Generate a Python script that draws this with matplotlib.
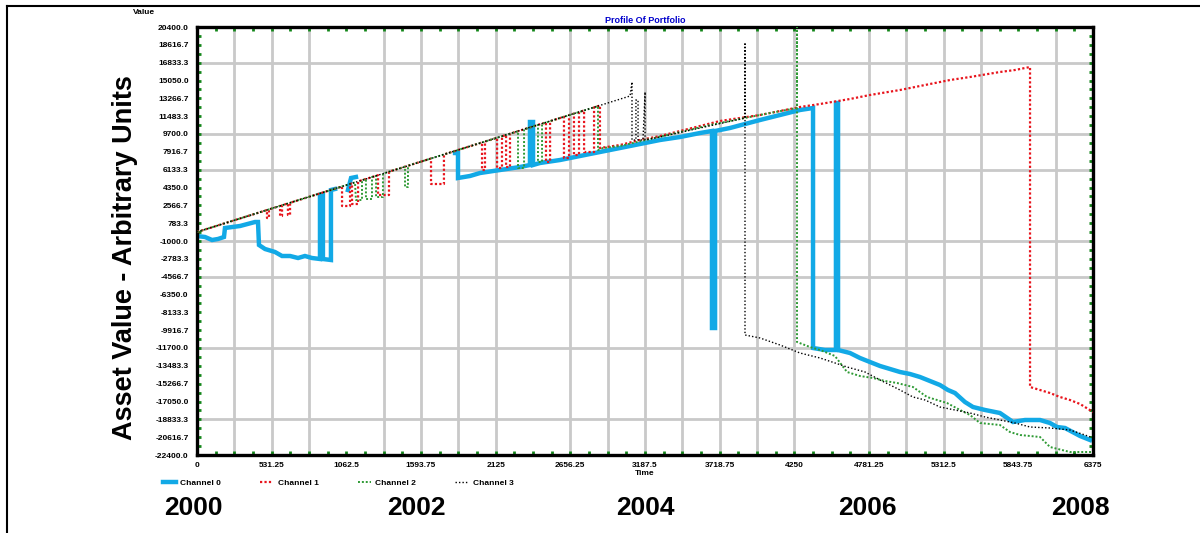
import numpy as np
import matplotlib

matplotlib.use("Agg")
import matplotlib.pyplot as plt
from matplotlib.lines import Line2D

plt.rcParams["font.family"] = ["Liberation Sans", "DejaVu Sans"]
plt.rcParams["font.weight"] = "bold"

nan = np.nan

# ---------------------------------------------------------------------------
# Series data: (time, value)
# ---------------------------------------------------------------------------
series_names = ["Channel 0", "Channel 1", "Channel 2", "Channel 3"]

blue_t = [0, 57, 107, 149, 192, 199, 306, 413, 434, 441, 484, 555, 605, 662, 719,
          768, 818, 875, 875, 896, 896, 953, 953, 982, nan,
          1074, 1096, 1131, nan,
          1836, 1857, 1857, 1942, 2014, 2156, 2298, 2369, 2369, 2391, 2391, 2440,
          2583, 2725, 2867, 3010, 3152, 3294, 3437, 3579, 3664, 3664, 3686, 3686,
          3792, 3899, 4006, 4148, 4290, 4383, 4383, 4468, 4546, 4546, 4561, 4561,
          4646, 4717, 4788, 4860, 4931, 5002, 5073, 5144, 5215, 5286, 5343, 5393,
          5464, 5521, 5607, 5713, 5806, 5891, 5998, 6069, 6119, 6176, 6283, 6354]
blue_v = [-500, -600, -900, -800, -600, 300, 500, 900, 900, -1400, -1800, -2100,
          -2500, -2500, -2700, -2500, -2700, -2800, 3600, 3600, -2800, -2900, 4100,
          4200, nan,
          4100, 5300, 5400, nan,
          7800, 7800, 5300, 5500, 5800, 6100, 6400, 6600, 10900, 10900, 6600, 6800,
          7100, 7500, 7900, 8300, 8700, 9100, 9400, 9800, 10000, -9700, -9700, 10000,
          10300, 10700, 11100, 11600, 12100, 12300, -11700, -11900, -11900, 12800,
          12800, -11900,
          -12200, -12700, -13100, -13500, -13800, -14100, -14300, -14600, -15000,
          -15400, -15900, -16200, -17100, -17600, -17900, -18200, -19100, -18900,
          -18900, -19200, -19600, -19700, -20500, -20900]

red_t = [0, 484, 498, 498, 512, 512, 591, 591, 605, 605, 647, 647, 662, 662,
         1032, 1032, 1089, 1089, 1103, 1103, 1146, 1146,
         1288, 1288, 1366, 1366, 1665, 1665, 1757, 1757,
         2028, 2028, 2049, 2049, 2135, 2135, 2170, 2170, 2199, 2199, 2227, 2227,
         2483, 2483, 2512, 2512, 2611, 2611, 2647, 2647, 2682, 2682, 2718, 2718,
         2754, 2754, 2825, 2825, 2867, 2867,
         3010, 3152, 3294, 3437, 3579, 3721, 3863, 4006, 4148, 4290, 4433, 4646,
         4788, 5002, 5144, 5358, 5500, 5713, 5820, 5927, 5927, 5998, 6069, 6140,
         6211, 6283, 6375]
red_v = [-100, 2035, 2100, 1300, 1300, 2160, 2510, 1500, 1500, 2570, 2760, 1600,
         1600, 2820,
         4450, 2500, 2500, 4700, 4770, 2700, 2700, 4960,
         5580, 3600, 3600, 5930, 7250, 4700, 4700, 7660,
         8850, 6100, 6100, 8940, 9320, 6300, 6300, 9480, 9600, 6400, 6400, 9730,
         10860, 6900, 6900, 10980, 11420, 7300, 7300, 11580, 11740, 7600, 7600,
         11900, 12050, 7900, 7900, 12370, 12550, 8300,
         8600, 9100, 9500, 10000, 10500, 11000, 11300, 11600, 12000, 12400, 12700,
         13200, 13600, 14100, 14500, 15100, 15400, 15900, 16100, 16400, -15600,
         -15900, -16200, -16600, -16900, -17300, -18100]

green_t = [0, 1124, 1131, 1174, 1174, 1202, 1202, 1245, 1245, 1274, 1274, 1323,
           1323, 1480, 1480, 1501, 1501, 2284, 2284, 2327, 2327, 2426, 2426, 2455,
           2455, 2853, 2853, 2889, 3010, 3223, 3437, 3650, 3863, 4077, 4269, 4269,
           4269, 4361, 4433, 4539, 4625, 4717, 4810, 4895, 4981, 5094, 5194, 5336,
           5429, 5500, 5571, 5713, 5784, 5856, 5998, 6069, 6211, 6375]
green_v = [-100, 4860, 3100, 3100, 5080, 5200, 3200, 3200, 5400, 5520, 3400, 3400,
           5740, 6430, 4400, 4400, 6530, 9980, 6300, 6300, 10170, 10610, 6900, 6900,
           10730, 12490, 8100, 8300, 8500, 9200, 9900, 10600, 11200, 11800, 12300,
           20400, -11100, -11600, -11900, -12500, -14100, -14500, -14700, -15000,
           -15200, -15600, -16600, -17200, -17900, -18400, -19200, -19400, -20100,
           -20400, -20600, -21600, -22100, -22100]

black_t = [0, 735, 1440, 2150, 3081, 3095, 3095, 3123, 3123, 3138, 3138, 3173,
           3188, 3188, 3294, 3579, 3899, 3899, 3899, 4006, 4148, 4290, 4433, 4625,
           4753, 4860, 5002, 5094, 5180, 5286, 5393, 5500, 5607, 5713, 5820, 5927,
           6069, 6211, 6318, 6375]
black_v = [-100, 3150, 6250, 9400, 13500, 14900, 9100, 9100, 13100, 13100, 9100,
           9100, 13900, 9100, 9400, 10300, 11300, 18700, -10400, -10700, -11400,
           -12200, -12700, -13600, -14100, -14900, -15900, -16600, -16900, -17600,
           -17900, -18200, -18600, -18900, -19200, -19600, -19700, -19900, -20400,
           -20700]

# axis ranges and labels
T_MAX = 6375
Y_MIN, Y_MAX = -22400, 20400
year_labels = ["2000", "2002", "2004", "2006", "2008"]

BLUE = "#12a9e6"
RED = "#e8141c"
GREEN = "#2e9a34"
TICK_GREEN = "#13861a"
GRID = "#c9c9c9"

W, H = 1200, 533
fig = plt.figure(figsize=(W / 100, H / 100), dpi=100)
ax = fig.add_axes([197 / W, 1 - 455 / H, 896 / W, 428 / H])

# grid (a few lines are not drawn)
x_step = T_MAX / 24
for k in range(1, 24):
    if k in (4, 9, 17, 22):
        continue
    ax.axvline(k * x_step, color=GRID, lw=2.0, zorder=0)
y_step = (Y_MAX - Y_MIN) / 12
for k in (1, 3, 4, 6, 7, 9, 11):
    ax.axhline(Y_MAX - k * y_step, color=GRID, lw=2.0, zorder=0)

l0, = ax.plot(blue_t, blue_v, color=BLUE, lw=3.2, solid_joinstyle="miter", zorder=2)
l1, = ax.plot(red_t, red_v, color=RED, lw=1.6, ls=(0, (1, 1)), zorder=3)
l2, = ax.plot(green_t, green_v, color=GREEN, lw=1.4, ls=(0, (1, 1)), zorder=4)
l3, = ax.plot(black_t, black_v, color="black", lw=1.0, ls=(0, (1, 1.5)), zorder=5)

ax.set_xlim(0, T_MAX)
ax.set_ylim(Y_MIN, Y_MAX)

xt = np.arange(13) * (T_MAX / 12)
ax.set_xticks(xt)
ax.set_xticklabels([f"{v:g}" for v in xt], fontsize=6, fontweight="bold")
ax.set_xticks(np.arange(49) * (T_MAX / 48), minor=True)
yt = np.linspace(Y_MIN, Y_MAX, 25)
ax.set_yticks(yt)
ax.set_yticklabels([f"{v:.1f}" for v in yt], fontsize=6, fontweight="bold")
ax.set_yticks(np.linspace(Y_MIN, Y_MAX, 49), minor=True)
ax.tick_params(which="both", direction="in", color=TICK_GREEN, length=3, width=2,
               top=True, right=True)
ax.tick_params(axis="x", pad=5)
ax.tick_params(axis="y", pad=6)

for sp in ax.spines.values():
    sp.set_linewidth(2.4)
    sp.set_color("black")

ax.set_xlabel("Time", fontsize=6, fontweight="bold", labelpad=1)
fig.text(144 / W, 1 - 12 / H, "Value", fontsize=6, fontweight="bold",
         ha="center", va="center")
ax.set_title("Profile Of Portfolio", fontsize=6.5, fontweight="bold",
             color="#0000cc", pad=3)

fig.text(125 / W, 1 - 258 / H, "Asset Value - Arbitrary Units", rotation=90,
         fontsize=19.5, fontweight="bold", ha="center", va="center")

for lab, xp in zip(year_labels, [193, 416, 645, 867, 1080]):
    fig.text(xp / W, 1 - 508 / H, lab, fontsize=19, fontweight="bold",
             ha="center", va="center")

fig.legend([l0, l1, l2, l3], series_names, loc="center left",
           bbox_to_anchor=(155 / W, 1 - 483 / H), ncol=4, frameon=False,
           fontsize=6, handlelength=1.6, handletextpad=0.5, columnspacing=4.7)

# outer frame
fig.add_artist(Line2D([7 / W, 7 / W], [0, 1 - 6 / H], transform=fig.transFigure,
                      color="black", lw=1.5))
fig.add_artist(Line2D([7 / W, 1], [1 - 6 / H, 1 - 6 / H], transform=fig.transFigure,
                      color="black", lw=1.5))

fig.savefig("out.png", dpi=100)
